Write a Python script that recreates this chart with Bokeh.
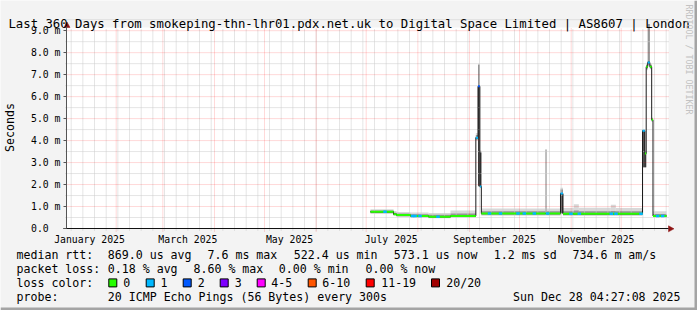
import math
import pandas as pd
from bokeh.plotting import figure
from bokeh.models import Range1d, FixedTicker, DatetimeTickFormatter
from bokeh.embed import file_html
from bokeh.resources import INLINE
from bokeh.core.properties import value

FONT = "DejaVu Sans Mono"
BG = "#f3f3f3"

# ---------------- data ----------------
title_text = "Last 360 Days from smokeping-thn-lhr01.pdx.net.uk to Digital Space Limited | AS8607 | London"
graph_end = "2025-12-28 04:27:08"
span_days = 360

x_label_months = ["2025-01-01", "2025-03-01", "2025-05-01", "2025-07-01", "2025-09-01", "2025-11-01"]
y_ticks = [0, 1, 2, 3, 4, 5, 6, 7, 8, 9]
y_tick_labels = ["0.0", "1.0 m", "2.0 m", "3.0 m", "4.0 m", "5.0 m", "6.0 m", "7.0 m", "8.0 m", "9.0 m"]

# consolidated samples (step segments): start time of each step
seg_start = ["2025-07-03 14:00", "2025-07-17 10:00", "2025-07-19 05:00", "2025-07-27 14:00",
             "2025-08-07 10:00", "2025-08-20 14:00", "2025-09-04 19:00", "2025-09-06 02:00",
             "2025-09-07 05:00", "2025-09-08 02:00", "2025-10-16 14:00", "2025-10-17 05:00",
             "2025-10-25 14:00", "2025-10-27 02:00", "2025-11-02 14:00", "2025-11-05 14:00",
             "2025-11-24 19:00", "2025-11-27 19:00", "2025-12-13 19:00", "2025-12-15 05:00",
             "2025-12-16 00:00", "2025-12-16 22:00", "2025-12-18 05:00", "2025-12-19 07:00",
             "2025-12-20 02:00"]
data_end = "2025-12-28 04:27:08"
median_ms = [0.76, 0.65, 0.61, 0.57, 0.53, 0.57, 4.13, 6.47, 1.91, 0.68, 0.68, 0.68,
             1.59, 0.67, 0.67, 0.67, 0.67, 0.67, 4.45, 3.41, 7.36, 7.55, 7.36, 4.95, 0.57]
loss_pings = [0, 0, 0, 0, 0, 0, 1, 2, 1, 0, 0, 0, 1, 0, 0, 0, 0, 0, 1, 0, 0, 1, 0, 0, 0]
smoke_min = [0.66, 0.58, 0.52, 0.49, 0.47, 0.50, 4.00, 1.90, 1.86, 0.58, 0.58, 0.58,
             0.65, 0.57, 0.57, 0.57, 0.57, 0.57, 2.75, 2.75, 7.20, 7.40, 7.25, 4.85, 0.50]
smoke_max = [0.88, 0.80, 0.75, 0.73, 0.71, 0.82, 4.35, 7.50, 3.55, 0.91, 3.60, 0.91,
             1.85, 0.93, 1.10, 0.94, 1.08, 0.93, 4.52, 3.50, 7.50, 9.30, 7.50, 5.05, 0.79]
smoke_mid_lo = [0.70, 0.61, 0.56, 0.53, 0.50, 0.53, 4.05, 1.92, 1.88, 0.62, 0.62, 0.62,
                0.68, 0.62, 0.62, 0.62, 0.62, 0.62, 2.78, 2.78, 7.25, 7.45, 7.28, 4.88, 0.53]
smoke_mid_hi = [0.82, 0.72, 0.68, 0.65, 0.62, 0.68, 4.25, 7.45, 3.50, 0.78, 3.60, 0.78,
                1.78, 0.78, 0.82, 0.78, 0.80, 0.78, 4.48, 3.45, 7.45, 9.30, 7.45, 5.02, 0.66]
smoke_core_lo = [0.74, 0.63, 0.59, 0.55, 0.51, 0.55, 4.10, 1.95, 1.90, 0.66, 0.66, 0.66,
                 0.70, 0.65, 0.65, 0.65, 0.65, 0.65, 2.80, 2.80, 7.30, 7.50, 7.32, 4.92, 0.55]
smoke_core_hi = [0.78, 0.67, 0.63, 0.59, 0.55, 0.59, 4.16, 6.45, 3.45, 0.70, 0.70, 0.70,
                 1.59, 0.69, 0.69, 0.69, 0.69, 0.69, 4.45, 3.41, 7.40, 7.60, 7.40, 4.98, 0.59]

# single samples with lost pings inside the flat periods
loss_event_time = ["2025-07-12 00:00", "2025-07-28 14:00", "2025-07-30 00:00", "2025-08-02 00:00",
                   "2025-08-12 19:00", "2025-09-12 17:00", "2025-09-19 07:00", "2025-09-29 19:00",
                   "2025-10-03 14:00", "2025-10-09 14:00", "2025-10-17 14:00", "2025-10-31 14:00",
                   "2025-11-05 14:00", "2025-11-24 19:00", "2025-11-27 14:00", "2025-12-12 14:00",
                   "2025-12-22 14:00", "2025-12-25 14:00"]
loss_event_pings = [1] * 18

loss_labels = ["0", "1", "2", "3", "4-5", "6-10", "11-19", "20/20"]
loss_colors = ["#26ff00", "#00b8ff", "#0059ff", "#7e00ff", "#ff00ff", "#ff5500", "#ff0000", "#a10000"]

rtt_label = "median rtt:"
rtt_stats = ["869.0 us avg", "7.6 ms max", "522.4 us min", "573.1 us now", "1.2 ms sd", "734.6 m am/s"]
loss_label = "packet loss:"
loss_stats = ["0.18 % avg", "8.60 % max", "0.00 % min", "0.00 % now"]
color_label = "loss color:"
probe_label = "probe:"
probe_text = "20 ICMP Echo Pings (56 Bytes) every 300s"
stamp_text = "Sun Dec 28 04:27:08 2025"
watermark = "RRDTOOL / TOBI OETIKER"

# ---------------- helpers ----------------
def ms(t):
    return pd.Timestamp(t).value / 1e6

def loss_index(n):
    if n <= 3:
        return n
    if n <= 5:
        return 4
    if n <= 10:
        return 5
    if n <= 19:
        return 6
    return 7

W, H = 697, 310
PL, PT, PW, PH = 66, 28, 600, 200          # graph canvas placement (pixels)
Y_TOP = 9.1

t_end = pd.Timestamp(graph_end)
t_start = t_end - pd.Timedelta(days=span_days)
T0, T1 = ms(t_start), ms(t_end)
mpp = (T1 - T0) / PW          # ms of time per pixel
vpp = Y_TOP / PH              # latency per pixel

starts = [ms(s) for s in seg_start]
ends = starts[1:] + [ms(data_end)]

p = figure(width=W, height=H, x_axis_type="datetime", title=None,
           x_range=Range1d(T0 - PL * mpp, T0 + (W - PL) * mpp),
           y_range=Range1d(-(H - PT - PH) * vpp, Y_TOP + PT * vpp),
           output_backend="svg", toolbar_location=None, min_border=0,
           background_fill_color=BG, border_fill_color=BG, outline_line_color=None)
p.extra_x_ranges = {"px": Range1d(0, W)}
p.extra_y_ranges = {"px": Range1d(H, 0)}
p.xgrid.visible = False
p.ygrid.visible = False

# white graph canvas
p.quad(left=[T0], right=[T1 + 2 * mpp], bottom=[0], top=[Y_TOP + 1 * vpp],
       fill_color="white", line_color=None)

# smoke
p.quad(left=starts, right=ends, bottom=smoke_min, top=smoke_max, fill_color="#d8d8d8", line_color=None)
p.quad(left=starts, right=ends, bottom=smoke_mid_lo, top=smoke_mid_hi, fill_color="#959595", line_color=None)
p.quad(left=starts, right=ends, bottom=smoke_core_lo, top=smoke_core_hi, fill_color="#3a3a3a", line_color=None)

# grid (dotted, drawn over the smoke as rrdtool does)
month_lines = [ms(t) for t in pd.date_range("2025-02-01", "2025-12-01", freq="MS")]
week_lines = [ms(t) for t in pd.date_range("2025-01-05", "2025-12-28", freq="7D")]
y_major = [v for v in y_ticks if v > 0]
y_minor = [v + 0.5 for v in y_ticks]
gx0, gx1 = T0 - 1 * mpp, T1 + 2 * mpp
p.segment(x0=week_lines, x1=week_lines, y0=-2 * vpp, y1=Y_TOP, line_color="#cbcbcb", line_dash="1 1", line_width=1)
p.segment(x0=gx0, x1=gx1, y0=y_minor, y1=y_minor, line_color="#cbcbcb", line_dash="1 1", line_width=1)
p.segment(x0=month_lines, x1=month_lines, y0=-3 * vpp, y1=Y_TOP, line_color="#ff0000", line_alpha=0.3,
          line_dash="1 1", line_width=1)
p.segment(x0=gx0, x1=gx1, y0=y_major, y1=y_major, line_color="#ff0000", line_alpha=0.3,
          line_dash="1 1", line_width=1)

# thin median step line
mx, my = [], []
for a, b, m in zip(starts, ends, median_ms):
    mx += [a, b]
    my += [m, m]
p.line(mx, my, line_color="#1c1c1c", line_width=1)

# loss coloured median (horizontal pieces)
p.segment(x0=starts, x1=ends, y0=median_ms, y1=median_ms,
          line_color=[loss_colors[loss_index(n)] for n in loss_pings], line_width=2)

# isolated loss samples
step_ms = 0.6 * 86400000
ev_x0, ev_x1, ev_y, ev_c = [], [], [], []
for t, n in zip(loss_event_time, loss_event_pings):
    tm = ms(t)
    for a, b, m in zip(starts, ends, median_ms):
        if a <= tm < b:
            ev_x0.append(tm)
            ev_x1.append(tm + step_ms)
            ev_y.append(m)
            ev_c.append(loss_colors[loss_index(n)])
            break
p.segment(x0=ev_x0, x1=ev_x1, y0=ev_y, y1=ev_y, line_color=ev_c, line_width=2.5, line_cap="square")

# ---------------- axes ----------------
label_pos = [ms(pd.Timestamp(m) + pd.Timedelta(days=15)) for m in x_label_months]
xa = p.xaxis[0]
xa.fixed_location = 0
xa.bounds = (T0 - 3 * mpp, T1 + 2 * mpp)
xa.ticker = FixedTicker(ticks=label_pos)
fmt = "%B %Y"
xa.formatter = DatetimeTickFormatter(microseconds=fmt, milliseconds=fmt, seconds=fmt, minsec=fmt,
                                     minutes=fmt, hourmin=fmt, hours=fmt, days=fmt,
                                     months=fmt, years=fmt)
xa.major_tick_out = 0
xa.major_tick_in = 0
xa.minor_tick_out = 0
xa.minor_tick_in = 0
xa.axis_line_color = "#111111"
xa.major_label_standoff = 5
xa.major_label_text_font = FONT
xa.major_label_text_font_size = "9.8px"
xa.major_label_text_color = "black"

ya = p.yaxis[0]
ya.fixed_location = T0
ya.bounds = (0, Y_TOP + 2 * vpp)
ya.ticker = FixedTicker(ticks=y_ticks)
ya.major_label_overrides = {v: (lab if " " in lab else lab + "\u00a0\u00a0")
                            for v, lab in zip(y_ticks, y_tick_labels)}
ya.major_tick_out = 3
ya.major_tick_in = 0
ya.minor_tick_out = 0
ya.minor_tick_in = 0
ya.major_tick_line_color = "#555555"
ya.axis_line_color = "#555555"
ya.major_label_standoff = 3
ya.major_label_text_font = FONT
ya.major_label_text_font_size = "9.8px"
ya.major_label_text_color = "black"
ya.axis_label = "Seconds"
ya.axis_label_text_font = FONT
ya.axis_label_text_font_size = "11.6px"
ya.axis_label_text_font_style = "normal"
ya.axis_label_text_color = "black"
ya.axis_label_standoff = 11

# axis arrow heads (pixel space)
p.patches(xs=[[668, 673.5, 668], [63.5, 66.5, 69.5]], ys=[[225.3, 228.3, 231.3], [27, 21.5, 27]],
          x_range_name="px", y_range_name="px", fill_color="#8e1414", line_color="#8e1414", line_width=0.5)

# ---------------- texts in pixel space ----------------
p.text(x=[348.5], y=[23.5], text=[title_text], x_range_name="px", y_range_name="px",
       text_font=value(FONT), text_font_size="12.3px", text_align="center",
       text_baseline="alphabetic", text_color="black")
p.text(x=[688.5], y=[4], text=[watermark], x_range_name="px", y_range_name="px", angle=-math.pi / 2,
       text_font=value(FONT), text_font_size="8.3px", text_align="left",
       text_baseline="middle", text_color="#c2c2c2")

rows_y = [254.3, 268.3, 282.4, 296.0]
rtt_x = [107.3, 207.0, 293.3, 393.3, 493.3, 572.0]
loss_x = [107.3, 193.0, 278.3, 365.0]
box_x = [112.3, 149.7, 186.7, 223.7, 260.7, 311.7, 369.7, 435.0]
box_lab_x = [122.7, 160.0, 197.3, 234.3, 270.7, 321.7, 380.7, 445.7]

tx = [16] + rtt_x + [16] + loss_x + [16] + box_lab_x + [16, 107.3]
ty = ([rows_y[0]] * (1 + len(rtt_x)) + [rows_y[1]] * (1 + len(loss_x)) +
      [rows_y[2]] * (1 + len(box_lab_x)) + [rows_y[3]] * 2)
tt = [rtt_label] + rtt_stats + [loss_label] + loss_stats + [color_label] + loss_labels + [probe_label, probe_text]
p.text(x=tx, y=ty, text=tt, x_range_name="px", y_range_name="px",
       text_font=value(FONT), text_font_size="11.6px",
       text_baseline="middle", text_align="left", text_color="black")
p.text(x=[680], y=[rows_y[3]], text=[stamp_text], x_range_name="px", y_range_name="px",
       text_font=value(FONT), text_font_size="11.6px",
       text_baseline="middle", text_align="right", text_color="black")
p.rect(x=box_x, y=[rows_y[2]] * len(box_x), width=8, height=8, x_range_name="px", y_range_name="px",
       fill_color=loss_colors, line_color="black", line_width=1)

# frame shading at right and bottom edges
p.quad(left=[694, 0], right=[697, 697], top=[0, 307], bottom=[310, 310],
       x_range_name="px", y_range_name="px", fill_color="#a4a4a4", line_color=None)

open("out.html", "w").write(file_html(p, INLINE))
